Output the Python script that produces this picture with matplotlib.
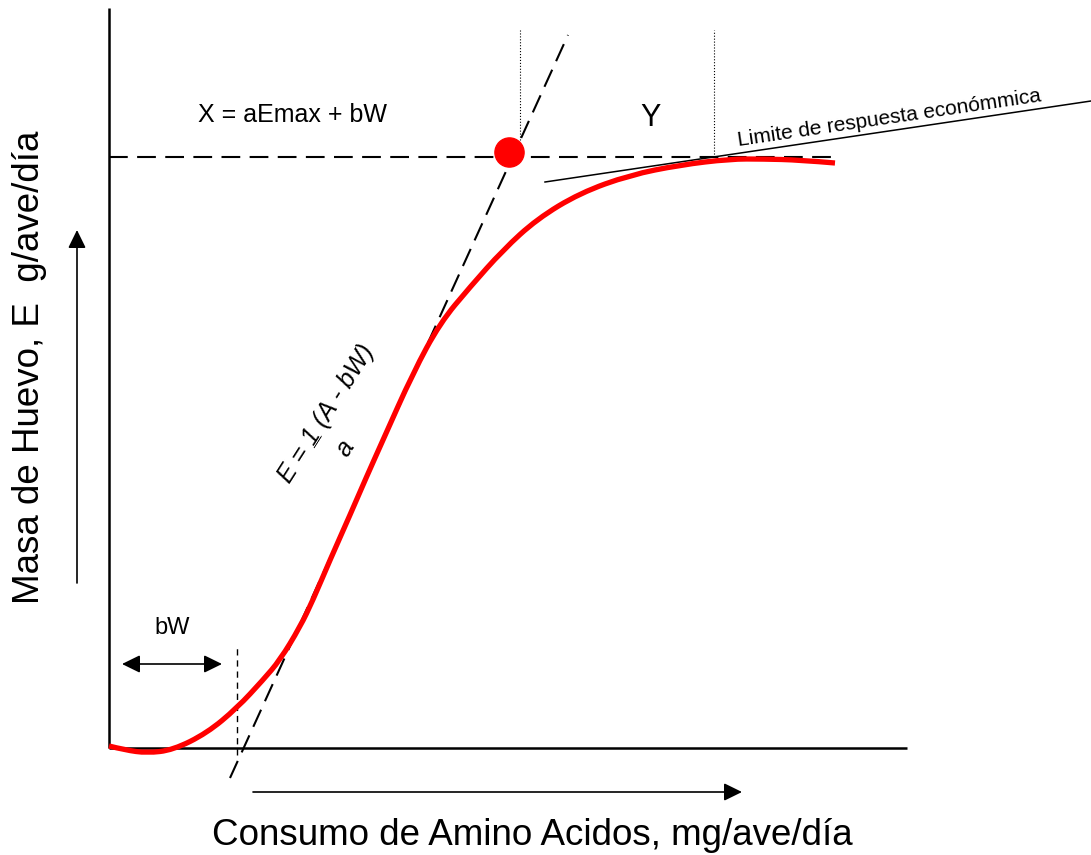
import matplotlib
matplotlib.use("Agg")
import matplotlib.pyplot as plt
from matplotlib.path import Path
from matplotlib.patches import PathPatch
import numpy as np

plt.rcParams['font.family'] = ['Liberation Sans', 'DejaVu Sans']

# response curve (origin at the axes corner)
consumo = [0, 16, 38, 64, 98, 128, 154, 171, 191, 204, 221, 241, 257, 274,
           304, 331, 361, 394, 428, 471, 521, 571, 621, 654, 691, 726]
masa = [2, -2, -5, -2, 15, 40, 68, 88, 121, 148, 188, 233, 270, 308,
        375, 425, 461, 498, 529, 555, 573, 583, 589, 589, 588, 585]

emax = 591
tangente_x = [121, 459]
tangente_y = [-30, 713]
limite_x = [436, 982]
limite_y = [566, 647]
optimo = (400, 596)
bw = 128
y_lineas = [411, 605]

fig = plt.figure(figsize=(10.91, 8.55), dpi=100)
ax = fig.add_axes([0, 0, 1, 1])
ax.set_xlim(-109, 982)
ax.set_ylim(-107, 748)
ax.axis('off')

# axes
ax.plot([0, 0], [0, 740], color='black', lw=1.8, solid_capstyle='butt')
ax.plot([0, 798], [0, 0], color='black', lw=1.8, solid_capstyle='butt')

# Emax and tangent
ax.plot([0, 726], [emax, emax], color='black', lw=1.5, dashes=(9, 4.5))
ax.plot(tangente_x, tangente_y, color='black', lw=1.5, dashes=(9, 4.5))

# economic limit
ax.plot(limite_x, limite_y, color='black', lw=1.1)

# dotted verticals
ax.plot([y_lineas[0], y_lineas[0]], [608, 718], color='black', lw=0.8, ls=':')
ax.plot([y_lineas[1], y_lineas[1]], [emax, 718], color='black', lw=0.8, ls=':')

# bW marker
ax.plot([bw, bw], [-7, 100], color='black', lw=1.0, dashes=(4.5, 3.5))

# curve, drawn as a smooth quadratic path through the read points
pts = np.column_stack([consumo, masa]).astype(float)
verts = [pts[0]]
codes = [Path.MOVETO]
for i in range(1, len(pts) - 1):
    mid = (pts[i] + pts[i + 1]) / 2
    verts += [pts[i], mid if i < len(pts) - 2 else pts[-1]]
    codes += [Path.CURVE3, Path.CURVE3]
ax.add_patch(PathPatch(Path(verts, codes), fill=False, edgecolor='#ff0000',
                       lw=3.8, capstyle='butt', zorder=3))
ax.plot(optimo[0], optimo[1], 'o', color='#ff0000', markersize=21, zorder=4)

# arrows
arr = dict(arrowstyle='-|>,head_length=0.55,head_width=0.27', color='black',
           lw=1.2, shrinkA=0, shrinkB=0, mutation_scale=20)
ax.annotate('', xy=(-32, 518), xytext=(-32, 165), arrowprops=arr)
ax.annotate('', xy=(633, -44), xytext=(144, -44), arrowprops=arr)
arr2 = dict(arrowstyle='<|-|>,head_length=0.55,head_width=0.27', color='black',
            lw=1.2, shrinkA=0, shrinkB=0, mutation_scale=20)
ax.annotate('', xy=(113, 84), xytext=(13, 84), arrowprops=arr2)

# texts
ax.text(184, 633, 'X = aEmax + bW', fontsize=18, ha='center', va='center')
ax.text(542, 630, 'Y', fontsize=22, ha='center', va='center')
ax.text(63, 120, 'bW', fontsize=17, ha='center', va='center')
ax.text(629, 602, 'Limite de respuesta económmica', fontsize=15, rotation=8.4,
        rotation_mode='anchor', ha='left', va='baseline')

ang = 57.5
fs = 18
ax.text(181, 264, 'E = 1 (A - bW)', fontsize=fs, style='italic', rotation=ang,
        rotation_mode='anchor', ha='left', va='baseline')
# underline under the "1": shift along the text by the width of "E = "
step = 1.807 * fs
ax.annotate('_', xy=(181, 264), xytext=(step * np.cos(np.radians(ang)),
                                        step * np.sin(np.radians(ang))),
            textcoords='offset points', fontsize=fs, style='italic',
            rotation=ang, rotation_mode='anchor', ha='left', va='baseline')
ax.text(236, 300, 'a', fontsize=fs, style='italic', rotation=ang,
        rotation_mode='anchor', ha='center', va='center')

ax.text(-79, 381, 'Masa de Huevo, E  g/ave/día', fontsize=26.5, rotation=90,
        ha='center', va='center')
ax.text(423, -87, 'Consumo de Amino Acidos, mg/ave/día', fontsize=26.5,
        ha='center', va='center')

fig.savefig('out.png', dpi=100)
